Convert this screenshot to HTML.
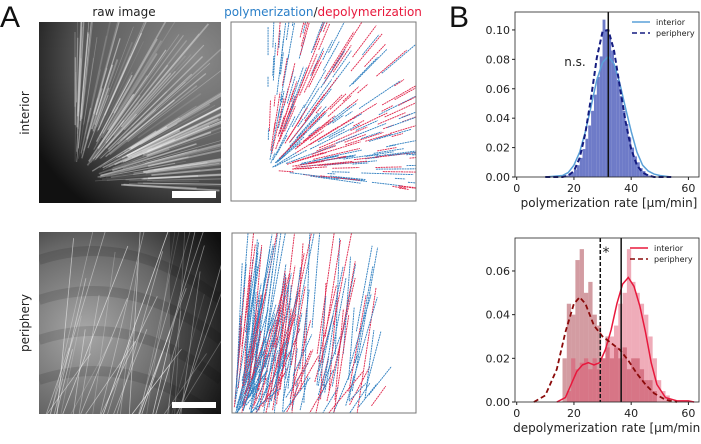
<!DOCTYPE html>
<html><head><meta charset="utf-8"><style>
html,body{margin:0;padding:0;background:#fff;}
body{width:701px;height:439px;overflow:hidden;font-family:"Liberation Sans","DejaVu Sans",sans-serif;}
svg text{font-family:"DejaVu Sans","Liberation Sans",sans-serif;}
</style></head><body>
<svg id="fig" width="701" height="439" viewBox="0 0 701 439" xmlns="http://www.w3.org/2000/svg">
<defs>
<radialGradient id="gInt" cx="0.85" cy="0.2" r="1">
<stop offset="0" stop-color="#8a8a8a"/><stop offset="0.6" stop-color="#5a5a5a"/><stop offset="1" stop-color="#111"/></radialGradient>
<radialGradient id="gPer" cx="0.25" cy="0.55" r="0.9">
<stop offset="0" stop-color="#a8a8a8"/><stop offset="0.55" stop-color="#666"/><stop offset="1" stop-color="#141414"/></radialGradient>
<clipPath id="c1"><rect x="39" y="22" width="182" height="181"/></clipPath>
<clipPath id="c2"><rect x="39" y="232" width="182" height="182"/></clipPath>
<clipPath id="c3"><rect x="231" y="22" width="185" height="179"/></clipPath>
<clipPath id="c4"><rect x="232" y="233" width="184" height="180"/></clipPath>
</defs>
<text x="0" y="27" font-size="30" fill="#111" style="font-family:'Liberation Sans',sans-serif">A</text>
<text x="449" y="27" font-size="30" fill="#111" style="font-family:'Liberation Sans',sans-serif">B</text>
<text x="124" y="16" font-size="12" text-anchor="middle" fill="#222">raw image</text>
<text x="323" y="16" font-size="12" text-anchor="middle"><tspan fill="#2a7fc8">polymerization</tspan><tspan fill="#222">/</tspan><tspan fill="#e8183c">depolymerization</tspan></text>
<text transform="translate(29,113) rotate(-90)" font-size="12" text-anchor="middle" fill="#222">interior</text>
<text transform="translate(29,323) rotate(-90)" font-size="12" text-anchor="middle" fill="#222">periphery</text>
<g id="img1" clip-path="url(#c1)"><rect x="39" y="22" width="182" height="181" fill="url(#gInt)"/></g>
<g id="img2" clip-path="url(#c2)"><rect x="39" y="232" width="182" height="182" fill="url(#gPer)"/></g>
<rect x="172" y="191" width="44" height="7" fill="#fff"/>
<rect x="172" y="402" width="44" height="6" fill="#fff"/>
<g id="trk1" clip-path="url(#c3)"></g>
<rect x="231" y="22" width="185" height="179" fill="none" stroke="#777"/>
<g id="trk2" clip-path="url(#c4)"></g>
<rect x="232" y="233" width="184" height="180" fill="none" stroke="#777"/>
<g id="chart1"></g>
<g id="chart2"></g>
</svg>
<script>
// ---- chart 1 data (polymerization) ----
const polyBins = [17,18,19,20,21,22,23,24,25,26,27,28,29,30,31,32,33,34,35,36,37,38,39,40,41,42,43,44,45,46];
const polyHist = [0.001,0.002,0.003,0.005,0.008,0.013,0.019,0.026,0.035,0.045,0.056,0.068,0.082,0.107,0.1,0.095,0.086,0.075,0.066,0.055,0.045,0.036,0.027,0.02,0.014,0.01,0.006,0.004,0.002,0.001];
const polyKdeX = [10,16,18,20,22,24,26,28,30,32,34,36,38,40,42,44,46,48,50,54];
const polyIntY = [0,0.001,0.003,0.008,0.017,0.031,0.048,0.066,0.078,0.082,0.077,0.064,0.047,0.031,0.017,0.008,0.004,0.002,0.001,0];
const polyPerY = [0,0.0,0.001,0.004,0.013,0.03,0.054,0.081,0.099,0.1,0.086,0.062,0.038,0.019,0.008,0.003,0.001,0,0,0];
const polyMean = 32;
const polyYTicks = [0,0.02,0.04,0.06,0.08,0.10];
const polyYLabels = ["0.00","0.02","0.04","0.06","0.08","0.10"];
const xTicks = [0,20,40,60];
// ---- chart 2 data (depolymerization) ----
const depBins = [16,17.5,19,20.5,22,23.5,25,26.5,28,29.5,31,32.5,34,35.5,37,38.5,40,41.5,43,44.5,46,47.5,49,50.5,52];
const depPerHist = [0.02,0.045,0.04,0.065,0.07,0.05,0.055,0.04,0.035,0.02,0.03,0.02,0.025,0.02,0.025,0.015,0.02,0.02,0.015,0.01,0.01,0.005,0,0,0];
const depIntHist = [0,0.005,0.02,0.015,0.018,0.02,0.015,0.02,0.015,0.02,0.025,0.03,0.035,0.045,0.05,0.07,0.055,0.05,0.045,0.04,0.03,0.02,0.01,0.005,0.003];
const depKdeX = [6,10,14,17,20,22,24,27,30,33,36,39,42,45,48,52,56];
const depPerY = [0,0.003,0.015,0.032,0.045,0.048,0.045,0.035,0.03,0.027,0.024,0.019,0.013,0.008,0.004,0.001,0];
const depIntX = [14,17,19,21,23,25,27,29,31,33,35,37,39,41,43,45,47,49,52,56,60,62];
const depIntY = [0,0.002,0.008,0.014,0.017,0.018,0.017,0.018,0.024,0.033,0.045,0.054,0.057,0.053,0.044,0.032,0.018,0.008,0.002,0.0005,0.0005,0];
const depPerMean = 29.2, depIntMean = 36.5;
const depYTicks = [0,0.02,0.04,0.06];
const depYLabels = ["0.00","0.02","0.04","0.06"];

const NS="http://www.w3.org/2000/svg";
function mk(parent,tag,attrs){const e=document.createElementNS(NS,tag);for(const k in attrs)e.setAttribute(k,attrs[k]);parent.appendChild(e);return e;}

function drawChart(g,o){
  const sx=v=>o.x0+(v-o.xmin)/(o.xmax-o.xmin)*(o.x1-o.x0);
  const sy=v=>o.y0-(v)/(o.ymax)*(o.y0-o.y1);
  o.hists.forEach(h=>{
    h.bins.forEach((b,i)=>{
      const r=mk(g,'rect',{x:sx(b),y:sy(h.vals[i]),width:sx(b+h.w)-sx(b),height:o.y0-sy(h.vals[i]),fill:h.fill});
      
      
    });
  });
  o.curves.forEach(c=>{
    const d=c.x.map((v,i)=>(i?'L':'M')+sx(v).toFixed(1)+','+sy(c.y[i]).toFixed(1)).join('');
    const p=mk(g,'path',{d:d,fill:'none',stroke:c.color,'stroke-width':c.w||1.5,'stroke-dasharray':c.dash||'none'});
    
    
  });
  o.vlines.forEach(v=>{
    const l=mk(g,'line',{x1:sx(v.x),x2:sx(v.x),y1:o.y1,y2:o.y0,stroke:'#111','stroke-width':1.5,'stroke-dasharray':v.dash||'none'});
    
    
  });
  const fr=mk(g,'rect',{x:o.x0,y:o.y1,width:o.x1-o.x0,height:o.y0-o.y1,fill:'none',stroke:'#222','stroke-width':0.8});
  
  
  o.yt.forEach((t,i)=>{
    mk(g,'line',{x1:o.x0-3,x2:o.x0,y1:sy(t),y2:sy(t),stroke:'#222'});
    const tx=mk(g,'text',{x:o.x0-5,y:sy(t)+4,'font-size':11,'text-anchor':'end',fill:'#222'});
    tx.textContent=o.yl[i];
    
    
  });
  xTicks.forEach(t=>{
    mk(g,'line',{x1:sx(t),x2:sx(t),y1:o.y0,y2:o.y0+3,stroke:'#222'});
    const tx=mk(g,'text',{x:sx(t),y:o.y0+15,'font-size':11,'text-anchor':'middle',fill:'#222'});
    tx.textContent=t;
    
    
  });
  const xl=mk(g,'text',{x:(o.x0+o.x1)/2+2,y:o.y0+30,'font-size':12,'text-anchor':'middle',fill:'#222'});
  xl.textContent=o.xlabel;
  
  
  o.legend.forEach((L,i)=>{
    const yy=o.ly+i*11;
    mk(g,'line',{x1:o.lx,x2:o.lx+18,y1:yy,y2:yy,stroke:L.color,'stroke-width':1.5,'stroke-dasharray':L.dash||'none'});
    const tx=mk(g,'text',{x:o.lx+24,y:yy+3,'font-size':8,fill:'#222'});
    tx.textContent=L.label;
    
    
  });
  const an=mk(g,'text',{x:o.ann.x,y:o.ann.y,'font-size':o.ann.s,fill:'#222','text-anchor':'middle'});
  an.textContent=o.ann.t;
  
  
}

drawChart(document.getElementById('chart1'),{x0:515,x1:699,y0:177,y1:12,xmin:-0.6,xmax:63.7,ymax:0.1122,
  yt:polyYTicks,yl:polyYLabels,xlabel:'polymerization rate [µm/min]',
  hists:[{bins:polyBins,vals:polyHist,w:1,fill:'rgba(85,100,190,0.85)',name:'poly-hist'}],
  curves:[{x:polyKdeX,y:polyIntY,color:'#5aa0d8',w:1.5,name:'poly-interior-kde'},{x:polyKdeX,y:polyPerY,color:'#141c80',w:2,dash:'5,3',name:'poly-periphery-kde'}],
  vlines:[{x:polyMean,name:'poly-mean-line'}],
  legend:[{label:'interior',color:'#5aa0d8'},{label:'periphery',color:'#141c80',dash:'5,3'}],lx:632,ly:22,
  ann:{x:575,y:66,t:'n.s.',s:12}});
drawChart(document.getElementById('chart2'),{x0:515,x1:699,y0:402,y1:238,xmin:-0.6,xmax:63.7,ymax:0.0751,
  yt:depYTicks,yl:depYLabels,xlabel:'depolymerization rate [µm/min]',
  hists:[{bins:depBins,vals:depPerHist,w:1.5,fill:'rgba(175,75,85,0.55)',name:'dep-periphery-hist'},{bins:depBins,vals:depIntHist,w:1.5,fill:'rgba(220,70,100,0.45)',name:'dep-interior-hist'}],
  curves:[{x:depIntX,y:depIntY,color:'#e8183c',w:1.5,name:'dep-interior-kde'},{x:depKdeX,y:depPerY,color:'#8b0a0a',w:1.8,dash:'5,3',name:'dep-periphery-kde'}],
  vlines:[{x:depPerMean,dash:'4,2',name:'dep-periphery-mean-line'},{x:depIntMean,name:'dep-interior-mean-line'}],
  legend:[{label:'interior',color:'#e8183c'},{label:'periphery',color:'#8b0a0a',dash:'5,3'}],lx:630,ly:248,
  ann:{x:606,y:257,t:'*',s:14}});

// decorative image texture (not chart data)
let seed=7;function rnd(){seed=(seed*16807)%2147483647;return seed/2147483647;}
const g1=document.getElementById('img1');
for(let i=0;i<160;i++){const a=-Math.PI/2+rnd()*Math.PI/2*1.05;const r0=20+rnd()*60,r1=r0+40+rnd()*120;const cx=75,cy=182;
 mk(g1,'line',{x1:cx+r0*Math.cos(a),y1:cy+r0*Math.sin(a),x2:cx+r1*Math.cos(a),y2:cy+r1*Math.sin(a),stroke:'#fff','stroke-opacity':(0.1+rnd()*0.35).toFixed(2),'stroke-width':(0.6+rnd()*1.2).toFixed(1)});}
const g2=document.getElementById('img2');
for(let i=0;i<4;i++)mk(g2,'path',{d:`M39,${260+i*40} Q130,${230+i*40} 221,${300+i*40}`,stroke:'#000','stroke-opacity':0.12,'stroke-width':10,fill:'none'});
for(let i=0;i<40;i++){const x=45+rnd()*140,y=414;const dx=10+rnd()*60,dy=-(60+rnd()*160);
 mk(g2,'line',{x1:x,y1:y,x2:x+dx,y2:y+dy,stroke:'#fff','stroke-opacity':(0.2+rnd()*0.5).toFixed(2),'stroke-width':0.8});}
mk(g2,'rect',{x:170,y:232,width:51,height:182,fill:'#000','fill-opacity':0.25});
const t1=document.getElementById('trk1');
for(let i=0;i<220;i++){const a=-Math.PI/2+rnd()*Math.PI/2*1.1;const r0=5+rnd()*150,len=8+rnd()*50;const cx=268,cy=170;
 mk(t1,'line',{x1:cx+r0*Math.cos(a),y1:cy+r0*Math.sin(a),x2:cx+(r0+len)*Math.cos(a),y2:cy+(r0+len)*Math.sin(a),stroke:rnd()<0.6?'#2f7fc0':'#e0254a','stroke-width':0.9,'stroke-dasharray':'2,0.6'});}
const t2=document.getElementById('trk2');
for(let i=0;i<160;i++){const x=233+Math.pow(rnd(),2.2)*130,y=413+rnd()*10;const dx=5+rnd()*35,dy=-(30+rnd()*170);
 const s=rnd()*0.5;
 mk(t2,'line',{x1:x+dx*s,y1:y+dy*s,x2:x+dx,y2:y+dy,stroke:rnd()<0.6?'#2f7fc0':'#e0254a','stroke-width':0.9,'stroke-dasharray':'2,0.6'});}
</script>
</body></html>
